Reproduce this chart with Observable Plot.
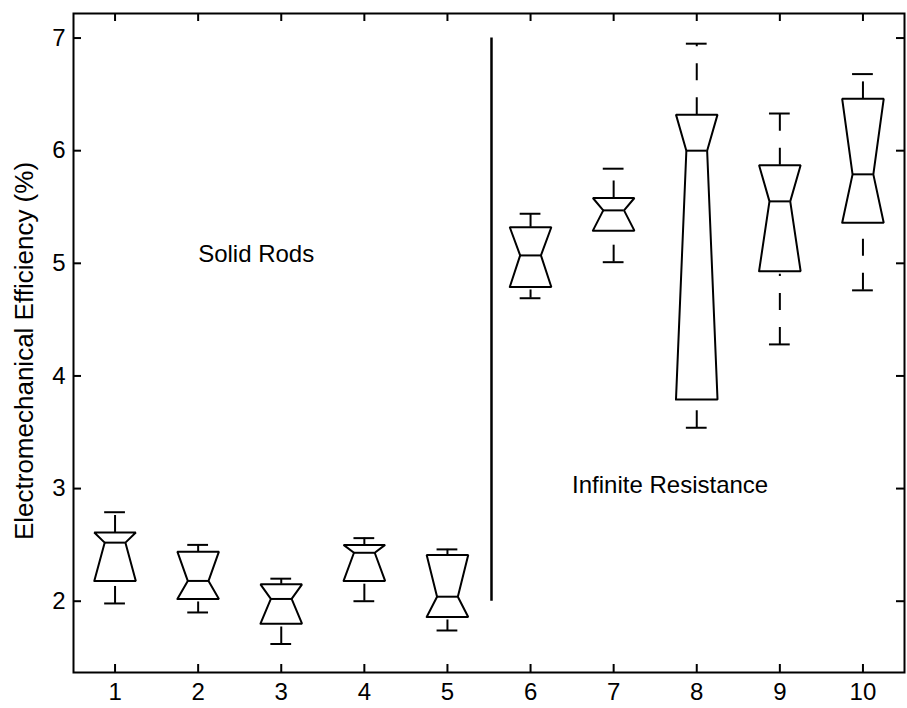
<!DOCTYPE html>
<html>
<head>
<meta charset="utf-8">
<script src="https://cdn.jsdelivr.net/npm/d3@7"></script>
<script src="https://cdn.jsdelivr.net/npm/@observablehq/plot@0.6"></script>
<style>
  html, body { margin: 0; padding: 0; background: #fff; }
  #chart { width: 907px; height: 708px; }
</style>
</head>
<body>
<div id="chart"></div>
<script>
// Electromechanical efficiency per configuration (notched box plots)
const groups      = [1, 2, 3, 4, 5, 6, 7, 8, 9, 10];
const whiskerLow  = [1.98, 1.90, 1.62, 2.00, 1.74, 4.69, 5.01, 3.54, 4.28, 4.76];
const quartile1   = [2.18, 2.02, 1.80, 2.18, 1.86, 4.79, 5.29, 3.79, 4.93, 5.36];
const medians     = [2.52, 2.18, 2.02, 2.43, 2.04, 5.07, 5.47, 6.00, 5.55, 5.79];
const quartile3   = [2.61, 2.44, 2.15, 2.50, 2.41, 5.32, 5.58, 6.32, 5.87, 6.46];
const whiskerHigh = [2.79, 2.50, 2.20, 2.56, 2.46, 5.44, 5.84, 6.95, 6.33, 6.68];

// Separator between the two groups of configurations
const dividerX = [5.53];
const dividerFrom = 2;
const dividerTo = 7;

// Group annotations
const noteText = ["Solid Rods", "Infinite Resistance"];
const noteX = [2, 6.5];
const noteY = [5.01, 2.96];

// Tick labels
const xTicks = [1, 2, 3, 4, 5, 6, 7, 8, 9, 10];
const yTicks = [2, 3, 4, 5, 6, 7];
const yLabel = "Electromechanical Efficiency (%)";

const halfBox = 0.25;    // half of the box width, in x units
const halfNotch = 0.125; // half width at the median waist and the whisker caps

const rows = groups.map((g, i) => ({
  g, lo: whiskerLow[i], q1: quartile1[i], med: medians[i], q3: quartile3[i], hi: whiskerHigh[i]
}));

// Outline of each notched box, closed back to its first point
const outline = rows.flatMap(r => [
  {g: r.g, x: r.g - halfBox,   y: r.q1},
  {g: r.g, x: r.g - halfNotch, y: r.med},
  {g: r.g, x: r.g - halfBox,   y: r.q3},
  {g: r.g, x: r.g + halfBox,   y: r.q3},
  {g: r.g, x: r.g + halfNotch, y: r.med},
  {g: r.g, x: r.g + halfBox,   y: r.q1},
  {g: r.g, x: r.g - halfBox,   y: r.q1}
]);

const marginLeft = 73, marginRight = 3, marginTop = 13, marginBottom = 36;
const W = 907, H = 708;
const innerW = W - marginLeft - marginRight;
const innerH = H - marginTop - marginBottom;
const tickLen = 8;
const sw = 2;

const chart = Plot.plot({
  width: W,
  height: H,
  marginLeft, marginRight, marginTop, marginBottom,
  style: {fontFamily: "'Liberation Sans', Arial, Helvetica, sans-serif", fontSize: "24px", color: "#000", background: "#fff"},
  x: {domain: [0.5, 10.5]},
  y: {domain: [1.367, 7.218]},
  marks: [
    // axes frame with inward ticks on all four sides
    Plot.frame({stroke: "#000", strokeWidth: sw}),
    Plot.ruleX(xTicks, {x: d => d, insetTop: innerH - tickLen, stroke: "#000", strokeWidth: sw}),
    Plot.ruleX(xTicks, {x: d => d, insetBottom: innerH - tickLen, stroke: "#000", strokeWidth: sw}),
    Plot.ruleY(yTicks, {y: d => d, insetRight: innerW - tickLen, stroke: "#000", strokeWidth: sw}),
    Plot.ruleY(yTicks, {y: d => d, insetLeft: innerW - tickLen, stroke: "#000", strokeWidth: sw}),
    Plot.axisX(xTicks, {tickSize: 0, tickPadding: 10, fontSize: 24, label: null, tickFormat: d3.format("d")}),
    Plot.axisY(yTicks, {tickSize: 0, tickPadding: 8, fontSize: 24, label: null, tickFormat: d3.format("d")}),
    Plot.text([yLabel], {frameAnchor: "left", textAnchor: "middle", rotate: -90, dx: -49, dy: 8, fontSize: 26, fill: "#000"}),

    // dashed whiskers, each drawn from its lower end upward
    Plot.ruleX(rows, {x: "g", y1: "lo", y2: "q1", insetBottom: -3, stroke: "#000", strokeWidth: sw, strokeDasharray: "17,17"}),
    Plot.ruleX(rows, {x: "g", y1: "q3", y2: "hi", stroke: "#000", strokeWidth: sw, strokeDasharray: "17,17"}),
    // whisker caps
    Plot.ruleY(rows, {y: "lo", x1: r => r.g - halfNotch, x2: r => r.g + halfNotch, stroke: "#000", strokeWidth: sw}),
    Plot.ruleY(rows, {y: "hi", x1: r => r.g - halfNotch, x2: r => r.g + halfNotch, stroke: "#000", strokeWidth: sw}),
    // notched boxes and medians
    Plot.line(outline, {x: "x", y: "y", z: "g", stroke: "#000", strokeWidth: sw, strokeLinejoin: "miter", curve: "linear"}),
    Plot.ruleY(rows, {y: "med", x1: r => r.g - halfNotch, x2: r => r.g + halfNotch, stroke: "#000", strokeWidth: sw}),

    // group separator and annotations
    Plot.ruleX(dividerX, {x: d => d, y1: dividerFrom, y2: dividerTo, stroke: "#000", strokeWidth: 2.5}),
    Plot.text(noteText, {x: (d, i) => noteX[i], y: (d, i) => noteY[i], text: d => d, textAnchor: "start", lineAnchor: "middle", dy: -8, fontSize: 24, fill: "#000"})
  ]
});

document.getElementById("chart").appendChild(chart);
</script>
</body>
</html>
